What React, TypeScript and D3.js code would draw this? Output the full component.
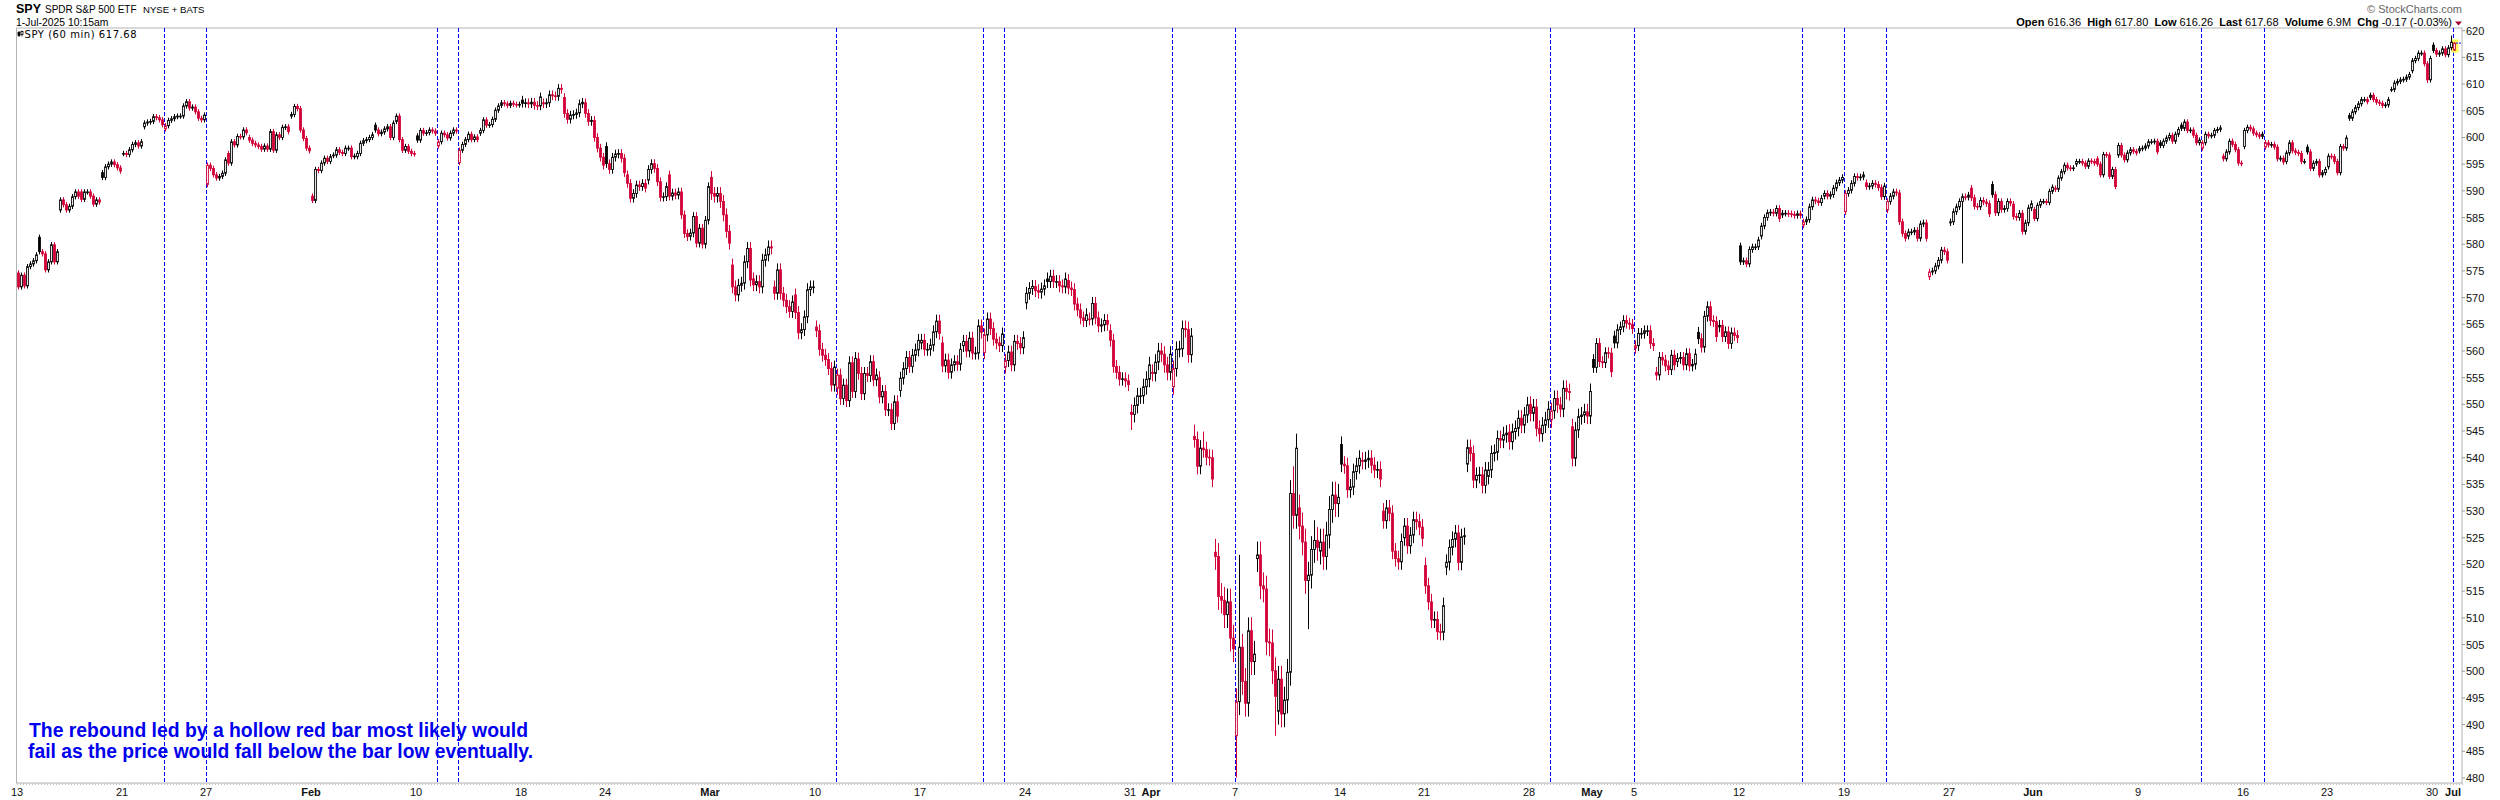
import React from "react";
import { scaleLinear } from "d3";

// hourly SPY bars, Jan 13 - Jul 1 2025 (dividend adjusted)
const priorClose = 577.0;

const dayOpens = [
  574.6, 581.3, 586.4, 589.8, 593.4, 597.0, 602.0, 601.6, 605.9, 591.2, 597.0, 600.0, 597.8, 604.0,
  589.0, 596.6, 596.5, 602.3, 603.0, 600.3, 598.4, 595.3, 600.8, 606.0, 607.0, 606.5, 607.5, 606.5, 598.3, 593.0, 592.0, 593.0, 581.5,
  592.5, 576.1, 573.5, 572.0, 570.5, 564.5, 553.0, 558.5, 555.0, 552.6, 561.5, 561.5, 561.0, 559.7, 557.0, 569.0, 573.5, 573.2, 566.0, 563.8, 548.5,
  556.0, 553.3, 544.0, 522.3, 487.9, 521.1, 492.5, 530.6, 522.5, 542.5, 539.5, 530.0, 525.0, 519.8, 519.5, 538.8, 536.5, 544.8, 550.0, 547.1, 545.8,
  558.4, 562.8, 560.5, 556.0, 558.0, 563.5, 564.5, 579.7, 581.5, 585.5, 583.6, 589.0, 586.1, 591.5, 586.4, 581.5, 573.9, 584.0, 590.5, 591.2, 587.5,
  586.5, 590.5, 595.0, 596.0, 596.7, 597.5, 599.0, 602.3, 598.0, 596.5, 598.3, 598.2, 595.5, 598.2, 594.5, 604.1, 607.5, 609.0, 612.5, 617.3,
  616.36,
];

const hourCloses = [
  [572.0, 574.2, 572.2, 575.8, 576.3, 576.9, 578.0],
  [578.6, 578.2, 575.2, 576.7, 579.9, 576.7, 578.6],
  [588.3, 587.4, 586.4, 587.1, 588.9, 589.8, 589.0],
  [588.4, 589.8, 589.8, 589.0, 587.5, 588.3, 587.9],
  [592.5, 594.5, 595.0, 595.4, 594.9, 594.3, 593.7],
  [597.0, 596.8, 597.7, 598.7, 599.0, 598.4, 599.2],
  [602.7, 602.9, 603.0, 603.9, 603.7, 603.3, 602.4],
  [602.2, 603.2, 603.5, 603.9, 604.0, 604.0, 605.9],
  [606.7, 605.5, 605.7, 604.8, 603.6, 603.3, 604.2],
  [594.8, 594.2, 593.0, 592.4, 592.7, 593.3, 595.8],
  [595.2, 599.2, 598.6, 600.2, 600.1, 601.4, 600.9],
  [599.5, 598.9, 598.6, 598.3, 597.8, 598.4, 597.8],
  [601.1, 597.6, 600.5, 600.0, 601.9, 602.0, 601.1],
  [604.3, 605.8, 605.4, 601.4, 599.8, 598.0, 597.5],
  [588.2, 594.0, 593.8, 595.2, 596.1, 595.5, 596.4],
  [596.7, 597.7, 597.2, 597.0, 598.0, 598.0, 596.4],
  [596.4, 597.0, 598.9, 599.4, 599.6, 600.0, 600.5],
  [601.4, 600.7, 601.0, 601.6, 602.0, 600.0, 602.7],
  [604.0, 599.6, 597.6, 598.3, 597.4, 597.0, 596.9],
  [599.5, 601.3, 600.8, 600.9, 601.4, 601.2, 600.8],
  [599.2, 600.8, 600.5, 599.9, 600.8, 601.4, 601.2],
  [597.6, 598.7, 599.6, 600.6, 599.6, 600.1, 599.6],
  [601.3, 603.3, 602.3, 602.4, 603.4, 605.1, 605.9],
  [606.5, 606.3, 606.0, 606.4, 606.2, 606.1, 606.2],
  [606.4, 606.5, 606.3, 606.6, 606.0, 605.9, 607.6],
  [606.3, 606.5, 608.0, 607.8, 607.7, 609.2, 609.0],
  [604.5, 603.4, 604.2, 604.3, 604.6, 606.3, 606.6],
  [604.5, 603.0, 603.2, 600.0, 598.0, 596.3, 594.8],
  [595.1, 594.0, 596.3, 596.9, 597.0, 596.1, 593.4],
  [591.4, 588.6, 589.5, 591.1, 590.8, 591.4, 590.5],
  [594.0, 595.1, 594.2, 591.7, 588.8, 588.9, 590.8],
  [589.0, 589.6, 589.2, 589.8, 585.5, 582.0, 581.4],
  [582.1, 585.2, 580.2, 583.0, 580.0, 584.5, 590.8],
  [589.5, 589.0, 589.5, 588.0, 585.5, 582.4, 580.2],
  [572.0, 570.5, 572.3, 572.7, 576.7, 579.2, 573.3],
  [572.4, 573.0, 572.0, 577.0, 578.0, 579.5, 579.3],
  [570.8, 575.2, 570.8, 569.5, 568.3, 567.4, 569.2],
  [567.2, 563.4, 564.0, 566.4, 571.5, 572.0, 572.0],
  [563.8, 560.3, 559.2, 558.4, 556.7, 553.6, 557.0],
  [555.5, 551.1, 553.6, 550.7, 557.8, 552.4, 558.6],
  [555.8, 552.0, 555.8, 555.4, 558.0, 554.6, 555.5],
  [551.4, 552.4, 549.0, 549.0, 546.4, 550.5, 547.8],
  [554.9, 556.7, 558.8, 557.1, 559.2, 560.2, 562.0],
  [562.0, 560.3, 560.3, 561.1, 563.6, 565.6, 563.3],
  [557.2, 558.3, 556.0, 557.4, 558.0, 557.5, 560.3],
  [561.8, 560.0, 562.4, 559.6, 559.6, 564.7, 563.5],
  [563.0, 566.0, 564.2, 562.2, 561.5, 561.0, 563.2],
  [558.2, 559.8, 557.4, 561.8, 561.4, 560.6, 562.5],
  [570.8, 571.7, 572.1, 571.3, 571.0, 571.6, 572.2],
  [573.0, 574.0, 573.0, 573.0, 572.2, 572.0, 573.5],
  [571.8, 571.5, 568.8, 567.7, 566.2, 565.7, 566.8],
  [566.0, 568.9, 566.2, 564.7, 564.9, 565.7, 565.0],
  [562.0, 557.1, 556.0, 554.7, 554.8, 554.4, 553.7],
  [548.1, 549.8, 551.6, 551.6, 553.3, 554.7, 557.4],
  [555.8, 557.9, 560.0, 559.4, 557.4, 556.0, 559.4],
  [556.7, 560.3, 560.4, 564.2, 564.0, 559.3, 562.8],
  [543.4, 538.4, 541.8, 541.5, 540.1, 540.0, 536.0],
  [521.5, 514.0, 513.3, 510.6, 513.0, 506.2, 504.2],
  [494.3, 504.5, 498.1, 494.0, 507.6, 501.8, 503.2],
  [521.8, 516.0, 515.4, 505.5, 505.3, 500.1, 495.3],
  [498.5, 492.0, 494.6, 499.8, 533.3, 529.2, 541.8],
  [527.2, 524.2, 517.0, 518.0, 522.8, 524.5, 523.2],
  [524.2, 521.5, 525.5, 530.3, 533.0, 531.4, 532.6],
  [538.8, 538.5, 534.0, 534.5, 537.4, 538.5, 539.9],
  [539.3, 539.6, 539.9, 538.6, 537.7, 537.8, 536.0],
  [528.2, 530.6, 529.6, 522.5, 521.1, 520.5, 524.3],
  [527.2, 523.5, 525.5, 528.4, 528.0, 527.0, 524.9],
  [516.0, 513.0, 509.6, 509.7, 507.4, 507.3, 512.3],
  [520.4, 523.2, 524.7, 525.9, 520.4, 525.2, 525.4],
  [541.9, 540.8, 535.8, 536.7, 536.8, 534.8, 537.7],
  [537.7, 540.8, 541.0, 543.6, 543.3, 544.3, 544.6],
  [543.0, 544.9, 545.5, 547.4, 546.1, 548.0, 549.9],
  [548.3, 549.5, 545.5, 544.5, 546.1, 547.1, 549.1],
  [548.8, 551.1, 549.9, 549.1, 553.0, 552.4, 552.2],
  [539.9, 545.2, 547.7, 548.0, 548.6, 547.8, 552.4],
  [556.9, 561.4, 558.0, 557.8, 559.7, 559.6, 556.1],
  [561.5, 564.0, 564.5, 565.7, 565.2, 565.0, 564.2],
  [561.0, 563.3, 563.3, 563.8, 563.8, 561.4, 561.0],
  [555.5, 558.8, 558.3, 557.2, 556.5, 559.2, 557.4],
  [558.6, 558.8, 557.4, 559.5, 557.2, 557.5, 559.4],
  [562.3, 560.7, 566.5, 568.3, 565.7, 565.5, 562.7],
  [564.8, 562.7, 563.6, 561.4, 563.4, 562.9, 562.5],
  [576.7, 576.9, 576.3, 579.0, 579.5, 579.5, 580.8],
  [583.4, 585.0, 585.9, 586.0, 585.8, 586.7, 584.8],
  [585.8, 585.8, 585.7, 585.6, 585.4, 585.7, 585.4],
  [584.2, 584.6, 587.0, 588.3, 588.1, 587.8, 588.6],
  [589.5, 589.0, 589.3, 590.5, 591.5, 592.0, 592.5],
  [589.5, 590.1, 591.4, 592.7, 592.5, 592.6, 593.0],
  [590.8, 590.9, 591.4, 591.2, 590.6, 588.9, 590.9],
  [588.0, 589.0, 589.8, 589.6, 584.2, 582.0, 581.1],
  [582.3, 582.3, 582.6, 581.1, 583.8, 584.0, 581.1],
  [574.8, 575.0, 575.9, 577.0, 578.9, 578.6, 577.0],
  [584.2, 586.1, 587.0, 588.0, 588.9, 588.8, 589.2],
  [588.7, 587.1, 587.0, 588.2, 587.9, 587.6, 585.7],
  [589.3, 585.9, 588.0, 586.5, 586.7, 588.0, 587.7],
  [585.2, 585.0, 585.8, 582.4, 584.0, 586.8, 587.6],
  [584.8, 587.3, 588.0, 588.0, 587.8, 589.9, 590.7],
  [590.3, 592.4, 593.6, 594.8, 594.3, 594.2, 594.3],
  [595.5, 595.5, 595.2, 594.6, 595.6, 595.5, 595.2],
  [595.0, 593.0, 596.8, 596.7, 592.7, 594.0, 590.8],
  [598.5, 596.7, 595.8, 597.1, 597.7, 597.4, 597.1],
  [597.9, 598.0, 598.4, 599.2, 599.2, 599.3, 597.3],
  [598.5, 599.3, 599.9, 600.4, 599.3, 600.6, 601.5],
  [601.7, 602.9, 601.3, 601.4, 600.4, 599.0, 599.5],
  [599.0, 600.6, 600.3, 600.4, 601.3, 601.5, 601.8],
  [596.0, 597.3, 599.3, 598.7, 597.7, 595.2, 595.1],
  [601.3, 601.9, 601.6, 600.8, 600.5, 600.2, 600.6],
  [599.0, 598.6, 598.7, 598.2, 596.0, 596.1, 595.4],
  [597.1, 599.0, 597.5, 597.2, 597.0, 595.5, 595.5],
  [597.3, 594.2, 595.2, 595.5, 593.0, 593.4, 594.0],
  [596.5, 596.4, 595.5, 593.4, 598.3, 598.0, 599.9],
  [603.6, 604.8, 605.6, 606.3, 607.1, 607.1, 606.7],
  [607.9, 607.1, 606.6, 606.4, 606.0, 606.1, 607.1],
  [609.0, 610.2, 610.5, 610.8, 610.9, 611.3, 611.8],
  [614.4, 614.8, 615.8, 615.8, 613.8, 610.8, 614.8],
  [616.3, 615.6, 615.8, 616.6, 615.5, 616.8, 617.85],
  [617.68],
];

// typical wick length of the hourly bars for each day
const dayWicks = [
  0.5, 0.5, 0.5, 0.5, 0.5, 0.5, 0.5, 0.5, 0.5, 0.5, 0.5, 0.5, 0.5, 0.5,
  0.5, 0.5, 0.5, 0.5, 0.5, 0.5, 0.5, 0.5, 0.5, 0.5, 0.8, 0.8, 0.8, 0.8, 0.8, 0.8, 0.8, 0.8, 0.8,
  1.2, 1.2, 1.2, 1.2, 1.2, 1.2, 1.2, 1.2, 1.2, 1.2, 1.2, 1.2, 1.2, 1.2, 1.2, 1.2, 1.2, 1.2, 1.2, 1.2, 1.5,
  1.5, 1.5, 1.5, 2.5, 2.5, 2.5, 2.5, 2.5, 2.5, 1.5, 1.5, 1.5, 1.5, 1.5, 1.5, 1.5, 1.5, 1.5, 1.5, 1.5, 1.5,
  1.0, 1.0, 1.0, 1.0, 1.0, 1.0, 1.0, 0.6, 0.6, 0.6, 0.6, 0.6, 0.6, 0.6, 0.6, 0.6, 0.6, 0.6, 0.6, 0.6, 0.6,
  0.5, 0.5, 0.5, 0.5, 0.5, 0.5, 0.5, 0.5, 0.5, 0.5, 0.5, 0.5, 0.5, 0.5, 0.5, 0.5, 0.5, 0.5, 0.5, 0.5,
  0.1,
];

// [day, bar, high, low] for the long wicks
const wickOverrides: [number, number, number | null, number | null][] = [
  [53, 0, null, 545.2],
  [56, 0, 546.2, null],
  [56, 3, 544.9, null],
  [58, 0, null, 480.1],
  [58, 1, 521.8, null],
  [59, 6, null, 487.9],
  [60, 5, 538.4, null],
  [60, 6, 544.5, null],
  [61, 3, null, 507.9],
  [61, 5, 528.3, null],
  [92, 4, null, 576.4],
  [114, 5, null, 610.2],
  [115, 6, 619.1, null],
  [116, 0, 617.8, 616.26],
];

const markerDays = [7, 9, 20, 21, 39, 46, 47, 55, 58, 73, 77, 85, 87, 89, 104, 107, 116];

const xTickDays = [0, 5, 9, 14, 19, 24, 28, 33, 38, 43, 48, 53, 54, 58, 63, 67, 72, 75, 77, 82, 87, 92, 96, 101, 106, 110, 115, 116];
const xTickLabels = ["13", "21", "27", "Feb", "10", "18", "24", "Mar", "10", "17", "24", "31", "Apr", "7", "14", "21", "28", "May", "5", "12", "19", "27", "Jun", "9", "16", "23", "30", "Jul"];

const yTicks = [480, 485, 490, 495, 500, 505, 510, 515, 520, 525, 530, 535, 540, 545, 550, 555, 560, 565, 570, 575, 580, 585, 590, 595, 600, 605, 610, 615, 620];

const quoteLabels = ["Open", "High", "Low", "Last", "Volume", "Chg"];
const quoteValues = ["616.36", "617.80", "616.26", "617.68", "6.9M", "-0.17 (-0.03%)"];

const note = [
  "The rebound led by a hollow red bar most likely would",
  "fail as the price would fall below the bar low eventually.",
];

const RED = "#d10238";
const sans = '"Liberation Sans", Arial, sans-serif';
const BARS_PER_DAY = 7;

type Bar = { i: number; o: number; h: number; l: number; c: number; up: boolean; hollow: boolean };

function buildBars(): Bar[] {
  const out: Bar[] = [];
  let prev = priorClose;
  hourCloses.forEach((closes, d) => {
    closes.forEach((c, k) => {
      const o = k === 0 ? dayOpens[d] : closes[k - 1];
      const w = dayWicks[d];
      let h = Math.max(o, c) + w;
      let l = Math.min(o, c) - w;
      const ov = wickOverrides.find((v) => v[0] === d && v[1] === k);
      if (ov) {
        if (ov[2] != null) h = ov[2];
        if (ov[3] != null) l = ov[3];
      }
      out.push({ i: d * BARS_PER_DAY + k, o, h, l, c, up: c >= prev, hollow: c >= o });
      prev = c;
    });
  });
  return out;
}

const left = 16.5;
const right = 2462;
const top = 28;
const bottom = 783;

export default function App() {
  const bars = buildBars();
  const x = scaleLinear().domain([0, 815]).range([17, right]);
  const y = scaleLinear().domain([480, 620]).range([778, 30.7]);
  const last = bars[bars.length - 1];
  const lastX = x(last.i);

  const barTicks: number[] = [];
  for (let i = 0; i <= 815; i++) barTicks.push(x(i));

  return (
    <div style={{ position: "absolute", left: 0, top: 0, width: 2500, height: 800, background: "#fff", overflow: "hidden" }}>
      <svg width={2500} height={800} style={{ display: "block" }} fontFamily={sans}>
        {/* header */}
        <text x={16} y={12.5} fontSize={12.5} fontWeight="bold">SPY</text>
        <text x={45} y={12.5} fontSize={10}>SPDR S&amp;P 500 ETF</text>
        <text x={143} y={12.5} fontSize={9.6}>NYSE + BATS</text>
        <text x={16} y={26} fontSize={10.4}>1-Jul-2025 10:15am</text>
        <text x={right} y={13} fontSize={11} fill="#666" textAnchor="end">© StockCharts.com</text>
        <text x={2452} y={26} fontSize={11} textAnchor="end">
          {quoteLabels.map((lab, k) => (
            <React.Fragment key={lab}>
              <tspan fontWeight="bold">{(k > 0 ? "\u00a0 " : "") + lab}</tspan>
              <tspan>{" " + quoteValues[k]}</tspan>
            </React.Fragment>
          ))}
        </text>
        <path d="M2455,21.5 L2462,21.5 L2458.5,25.5 Z" fill="#a0002a" />

        {/* plot frame */}
        <rect x={left} y={top} width={right - left} height={bottom - top} fill="#fff" stroke="#b4b4b4" strokeWidth={1} />

        {/* legend */}
        <g stroke="#000" strokeWidth={0.8}>
          <line x1={19} y1={31} x2={19} y2={37} />
          <rect x={18} y={32.5} width={2} height={3} fill="#000" />
          <line x1={22} y1={30.5} x2={22} y2={36.5} />
          <rect x={21} y={31.5} width={2} height={3} fill="#fff" />
        </g>
        <text x={24.5} y={37.8} fontSize={10} fontFamily='"DejaVu Sans", Verdana, sans-serif' letterSpacing={0.55}>
          SPY (60 min) 617.68
        </text>

        {/* marker lines */}
        {markerDays.map((d) => (
          <line
            key={d}
            x1={x(d * BARS_PER_DAY) + 0.5}
            x2={x(d * BARS_PER_DAY) + 0.5}
            y1={top}
            y2={bottom}
            stroke="#0000ff"
            strokeWidth={1}
            strokeDasharray="4 2"
          />
        ))}

        {/* current bar highlight */}
        <rect x={lastX - 1.5} y={y(last.h) - 3} width={7} height={y(last.l) - y(last.h) + 5} fill="#ffff55" />

        {/* candles */}
        {bars.map((b) => {
          const sx = x(b.i);
          const col = b.up ? "#000" : RED;
          const yTop = y(Math.max(b.o, b.c));
          const yBot = y(Math.min(b.o, b.c));
          return (
            <g key={b.i}>
              <line x1={sx + 1.5} x2={sx + 1.5} y1={y(b.h)} y2={y(b.l)} stroke={col} strokeWidth={1} />
              <rect
                x={sx + 0.6}
                y={yTop}
                width={1.8}
                height={Math.max(yBot - yTop, 0.8)}
                fill={b.hollow ? "#fff" : col}
                stroke={col}
                strokeWidth={0.9}
              />
            </g>
          );
        })}

        {/* last price marker */}
        <line x1={lastX + 3} x2={right} y1={y(last.c)} y2={y(last.c)} stroke="#0000ff" strokeWidth={1} strokeDasharray="2 1" />

        {/* right axis */}
        {yTicks.map((t) => (
          <g key={t}>
            <line x1={right} x2={right + 3} y1={y(t)} y2={y(t)} stroke="#999" />
            <text x={right + 4} y={y(t) + 4} fontSize={11} fill="#111">{t}</text>
          </g>
        ))}

        {/* bottom axis */}
        <g stroke="#c4c4c4" strokeWidth={1}>
          {barTicks.map((t, k) => (
            <line key={k} x1={Math.round(t) + 0.5} x2={Math.round(t) + 0.5} y1={bottom} y2={bottom + 2} />
          ))}
        </g>
        {xTickDays.map((d, k) => {
          const lab = xTickLabels[k];
          const isMonth = !/^\d+$/.test(lab);
          return (
            <text
              key={k}
              x={x(d * BARS_PER_DAY)}
              y={796}
              fontSize={11}
              textAnchor="middle"
              fontWeight={isMonth ? "bold" : "normal"}
              fill="#111"
            >
              {lab}
            </text>
          );
        })}

        {/* annotation */}
        <text x={29} y={736.5} fontSize={20} fontWeight="bold" fill="#0000ee" textLength={499} lengthAdjust="spacingAndGlyphs">
          {note[0]}
        </text>
        <text x={28} y={757.5} fontSize={20} fontWeight="bold" fill="#0000ee" textLength={505} lengthAdjust="spacingAndGlyphs">
          {note[1]}
        </text>
      </svg>
    </div>
  );
}
